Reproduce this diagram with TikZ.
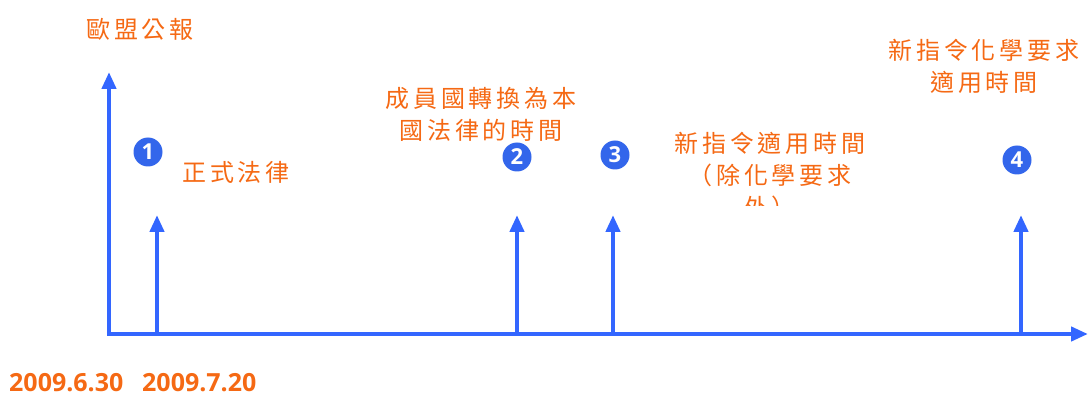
\documentclass[tikz,border=0pt]{standalone}
\usepackage{fontspec}
\usetikzlibrary{arrows.meta}
\newfontfamily\cjkfont[LetterSpace=16]{Noto Sans CJK TC}
\newfontfamily\datefont{Open Sans}
\definecolor{axisblue}{RGB}{51,102,255}
\definecolor{circblue}{RGB}{51,102,235}
\definecolor{txtorange}{RGB}{245,105,20}
\tikzset{
  axisline/.style={draw=axisblue, line width=4.5pt, -{Triangle[width=14pt,length=17pt]}},
  tickline/.style={draw=axisblue, line width=4.5pt, -{Triangle[width=14pt,length=17pt]}},
  numcirc/.style={circle, fill=circblue, minimum size=29pt, inner sep=0pt, text=white, font=\datefont\bfseries\fontsize{22}{22}\selectfont},
  label/.style={text=txtorange, font=\cjkfont\fontsize{24}{32}\selectfont, align=center, inner sep=0pt},
  datelbl/.style={text=txtorange, font=\datefont\bfseries\fontsize{25}{25}\selectfont, anchor=west, inner sep=0pt}
}
\begin{document}
\begin{tikzpicture}[x=1pt,y=-1pt]
\useasboundingbox (0,0) rectangle (1088,398);
% axes
\coordinate (origin) at (109,334);
\coordinate (ytip) at (109,72);
\coordinate (xtip) at (1088,334);
\draw[axisline] (origin) -- (ytip);
\draw[axisline] ([xshift=-2.25pt]origin) -- (xtip);
% ticks
\coordinate (t1b) at (157,334); \coordinate (t1) at (157,215);
\coordinate (t2b) at (517,334); \coordinate (t2) at (517,215);
\coordinate (t3b) at (613,334); \coordinate (t3) at (613,215);
\coordinate (t4b) at (1021,334); \coordinate (t4) at (1021,215);
\draw[tickline] (t1b) -- (t1);
\draw[tickline] (t2b) -- (t2);
\draw[tickline] (t3b) -- (t3);
\draw[tickline] (t4b) -- (t4);
% numbered circles
\node[numcirc] (n1) at (148,152) {1};
\node[numcirc] (n2) at (517,157) {2};
\node[numcirc] (n3) at (615,155) {3};
\node[numcirc] (n4) at (1017,160) {4};
% labels
\node[label] (l0) at (140,29) {歐盟公報};
\node[label] (l1) at (236,172) {正式法律};
\node[label] (l2) at (481,114) {成員國轉換為本\\國法律的時間};
\begin{scope}
\clip (600,120) rectangle (900,206);
\node[label, anchor=north, align=center] (l3) at (770,132) {新指令適用時間\\（除化學要求\\外）};
\end{scope}
\node[label] (l4) at (984,66) {新指令化學要求\\適用時間};
% dates
\node[datelbl] (d1) at (9,383) {2009.6.30};
\node[datelbl] (d2) at (142,383) {2009.7.20};
\end{tikzpicture}
\end{document}
